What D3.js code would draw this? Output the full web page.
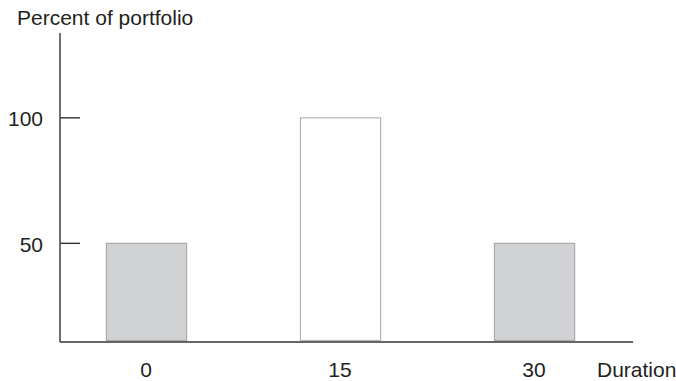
<!DOCTYPE html>
<meta charset="utf-8">
<html>
<head>
<title>Percent of portfolio by duration</title>
</head>
<style>
  body { margin: 0; background: #fff; }
  text { font-family: "Liberation Sans", Arial, sans-serif; font-size: 21px; fill: #231f20; }
  .axis-line { stroke: #333; stroke-width: 1.4; fill: none; }
</style>
<script src="https://d3js.org/d3.v7.min.js"></script>
<body>
<svg width="676" height="381"></svg>
</body>
<script>
  // Data
  var durations = [0, 15, 30];
  var percents = [50, 100, 50];
  var fills = ["#d1d2d4", "#ffffff", "#d1d2d4"];
  var strokes = ["#a9aaac", "#b4b5b7", "#a9aaac"];
  var yTicks = [50, 100];
  var barWidth = 6.2; // in duration units

  var svg = d3.select("svg");

  // scales: baseline of the chart is not zero
  var x = d3.scaleLinear().domain([-6.65, 37.65]).range([60, 633]);
  var y = d3.scaleLinear().domain([10.7, 133.8]).range([342, 33]);

  // bars
  svg.append("g")
    .selectAll("rect")
    .data(durations)
    .enter().append("rect")
      .attr("x", function (d) { return x(d - barWidth / 2) + 0.5; })
      .attr("width", x(barWidth) - x(0))
      .attr("y", function (d, i) { return y(percents[i]); })
      .attr("height", function (d, i) { return y(y.domain()[0]) - 1.5 - y(percents[i]); })
      .attr("fill", function (d, i) { return fills[i]; })
      .attr("stroke", function (d, i) { return strokes[i]; })
      .attr("stroke-width", 1.2);

  // y axis
  var g = svg.append("g");
  g.append("line").attr("class", "axis-line")
    .attr("x1", x.range()[0]).attr("x2", x.range()[0])
    .attr("y1", y.range()[1]).attr("y2", y.range()[0]);
  g.selectAll(".tick")
    .data(yTicks)
    .enter().append("line").attr("class", "axis-line")
      .attr("x1", x.range()[0]).attr("x2", x.range()[0] + 20)
      .attr("y1", function (d) { return y(d); })
      .attr("y2", function (d) { return y(d); });
  g.selectAll(".ylab")
    .data(yTicks)
    .enter().append("text")
      .attr("x", x.range()[0] - 17)
      .attr("y", function (d) { return y(d) + 8.5; })
      .attr("text-anchor", "end")
      .text(function (d) { return d; });
  g.append("text")
    .attr("x", 17).attr("y", 25)
    .text("Percent of portfolio");

  // x axis
  svg.append("line").attr("class", "axis-line")
    .attr("x1", x.range()[0]).attr("x2", x.range()[1])
    .attr("y1", y.range()[0]).attr("y2", y.range()[0]);
  svg.selectAll(".xlab")
    .data(durations)
    .enter().append("text")
      .attr("x", function (d) { return x(d); })
      .attr("y", 376.5)
      .attr("text-anchor", "middle")
      .text(function (d) { return d; });
  svg.append("text")
    .attr("x", 597).attr("y", 376.5)
    .text("Duration");
</script>
</html>
